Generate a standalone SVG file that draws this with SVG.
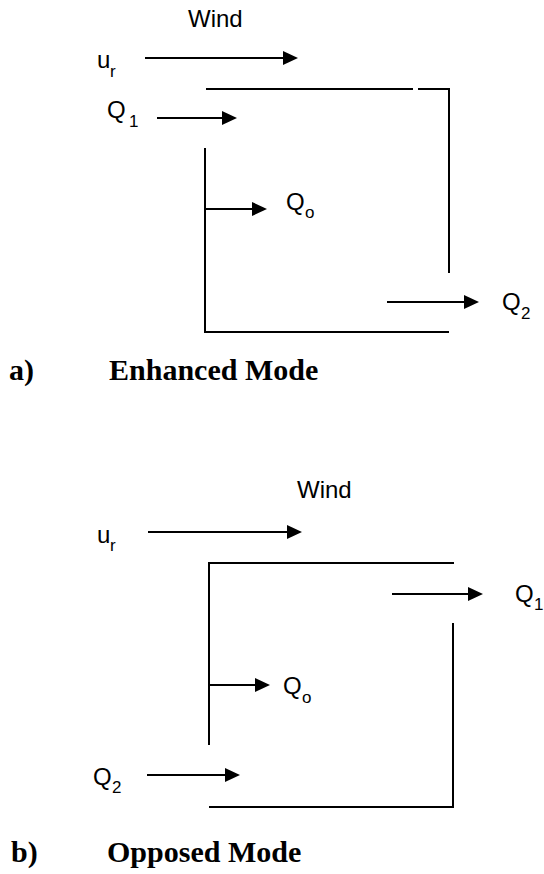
<svg xmlns="http://www.w3.org/2000/svg" width="544" height="874" viewBox="0 0 544 874">
  <style>
    .ln { stroke: #000; stroke-width: 2; fill: none; }
    .ar { stroke: #000; stroke-width: 2; fill: none; marker-end: url(#ah); }
    .t { font-family: "Liberation Sans", Arial, sans-serif; font-size: 24px; fill: #000; }
    .s { font-family: "Liberation Sans", Arial, sans-serif; font-size: 17px; fill: #000; }
    .cap { font-family: "Liberation Serif", "Times New Roman", serif; font-size: 30px; font-weight: bold; fill: #000; }
  </style>
  <defs>
    <marker id="ah" markerUnits="userSpaceOnUse" markerWidth="16" markerHeight="15" refX="5" refY="7" orient="auto">
      <path d="M0,0 L15,7 L0,14 z" fill="#000"/>
    </marker>
  </defs>
  <rect width="544" height="874" fill="#fff"/>

  <!-- a) Enhanced Mode -->
  <g id="walls-a">
    <polyline class="ln" points="206,89 413,89"/>
    <polyline class="ln" points="418,89 449,89 449,273"/>
    <polyline class="ln" points="205,148 205,332 449,332"/>
  </g>
  <g id="connectors-a">
    <line class="ar" x1="145" y1="58" x2="288" y2="58"/>
    <line class="ar" x1="157" y1="118" x2="227" y2="118"/>
    <line class="ar" x1="206" y1="209" x2="257" y2="209"/>
    <line class="ar" x1="387" y1="302" x2="469" y2="302"/>
  </g>
  <g id="wind-a"><text class="t" x="188" y="27">Wind</text></g>
  <g id="ur-a"><text class="t" x="97" y="68">u</text><text class="s" x="110" y="77">r</text></g>
  <g id="q1-a"><text class="t" x="107" y="118">Q</text><text class="s" x="129" y="127">1</text></g>
  <g id="q0-a"><text class="t" x="286" y="210">Q</text><text class="s" x="305" y="218">o</text></g>
  <g id="q2-a"><text class="t" x="502" y="310">Q</text><text class="s" x="521" y="319">2</text></g>
  <g id="label-a"><text class="cap" x="9" y="380">a)</text><text class="cap" x="109" y="380">Enhanced Mode</text></g>

  <!-- b) Opposed Mode -->
  <g id="walls-b">
    <polyline class="ln" points="209,745 209,563 454,563"/>
    <polyline class="ln" points="453,623 453,807 209,807"/>
  </g>
  <g id="connectors-b">
    <line class="ar" x1="148" y1="532" x2="292" y2="532"/>
    <line class="ar" x1="392" y1="594" x2="473" y2="594"/>
    <line class="ar" x1="210" y1="685" x2="260" y2="685"/>
    <line class="ar" x1="147" y1="775" x2="230" y2="775"/>
  </g>
  <g id="wind-b"><text class="t" x="297" y="498">Wind</text></g>
  <g id="ur-b"><text class="t" x="97" y="543">u</text><text class="s" x="110" y="551">r</text></g>
  <g id="q1-b"><text class="t" x="515" y="602">Q</text><text class="s" x="534" y="610">1</text></g>
  <g id="q0-b"><text class="t" x="283" y="694">Q</text><text class="s" x="302" y="703">o</text></g>
  <g id="q2-b"><text class="t" x="93" y="785">Q</text><text class="s" x="112" y="793">2</text></g>
  <g id="label-b"><text class="cap" x="11" y="862">b)</text><text class="cap" x="107" y="862">Opposed Mode</text></g>
</svg>
